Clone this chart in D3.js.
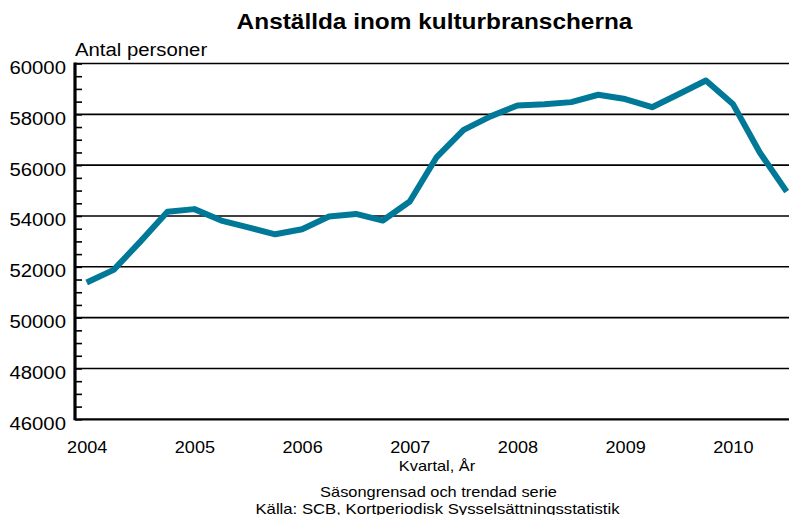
<!DOCTYPE html>
<html>
<head>
<meta charset="utf-8">
<script src="https://cdn.jsdelivr.net/npm/d3@7"></script>
<style>
body{margin:0;background:#fff;}
text{font-family:"Liberation Sans",Arial,sans-serif;fill:#000;}
</style>
</head>
<body>
<div id="plot"></div>
<script>
//data, one value per quarter 2004 Q1 .. 2010 Q3
var startYear = 2004;
var employed = [51380, 51880, 53000, 54170, 54270, 53820, 53550, 53280, 53480,
	53980, 54080, 53820, 54570, 56320, 57390, 57920, 58350, 58400, 58480,
	58770, 58600, 58280, 58800, 59330, 58410, 56500, 54960];
var yearTicks = [2004, 2005, 2006, 2007, 2008, 2009, 2010];
var valueTicks = [46000, 48000, 50000, 52000, 54000, 56000, 58000, 60000];

var W = 789, H = 515;
var stretch = 1.13; //the original text is a bit wide

var svg = d3.select('#plot')
	.append('svg')
	.attr('width',W)
	.attr('height',H);

var x = d3.scaleLinear()
	.domain([startYear, startYear + (employed.length-1)/4])
	.range([86.7, 786.7]);
var y = d3.scaleLinear()
	.domain([46000, 60000])
	.range([419.3, 63.5]);

var axisX = 75, rightX = 789;

//gridlines
svg.append('g').selectAll('line')
	.data(valueTicks.slice(1))
	.enter()
	.append('line')
	.attr('x1',axisX).attr('x2',rightX)
	.attr('y1',function(d){return y(d);})
	.attr('y2',function(d){return y(d);})
	.style('stroke','#000')
	.style('stroke-width',1.6);

//small ticks every 500
svg.append('g')
	.attr('transform','translate('+axisX+',0)')
	.call(d3.axisRight(y).tickValues(d3.range(46000,60001,500)).tickSize(7).tickFormat(''))
	.call(function(g){
		g.select('.domain').remove();
		g.selectAll('line').style('stroke','#000').style('stroke-width',1.6);
	});

//y labels
svg.append('g')
	.attr('transform','translate('+axisX+',0)')
	.call(d3.axisLeft(y).tickValues(valueTicks).tickSize(0).tickFormat(d3.format('d')))
	.call(function(g){
		g.select('.domain').remove();
		g.selectAll('text')
			.attr('x',-8)
			.attr('dy','0.55em')
			.attr('transform','scale('+stretch+',1)')
			.style('font-size','18px')
			.style('font-family','"Liberation Sans",Arial,sans-serif')
			.style('fill','#000');
	});

//x labels
svg.append('g')
	.attr('transform','translate(0,'+y(46000)+')')
	.call(d3.axisBottom(x).tickValues(yearTicks).tickSize(0).tickFormat(d3.format('d')))
	.call(function(g){
		g.select('.domain').remove();
		g.selectAll('text')
			.attr('y',22)
			.attr('dy','0.71em')
			.attr('transform','scale('+stretch+',1)')
			.style('font-size','16px')
			.style('font-family','"Liberation Sans",Arial,sans-serif')
			.style('fill','#000');
	});

//axis lines
svg.append('line')
	.attr('x1',axisX).attr('x2',rightX)
	.attr('y1',y(46000)).attr('y2',y(46000))
	.style('stroke','#000').style('stroke-width',2.2);
svg.append('line')
	.attr('x1',axisX).attr('x2',axisX)
	.attr('y1',y(60000)-1).attr('y2',y(46000)+1)
	.style('stroke','#000').style('stroke-width',3.2);

//the series
var line = d3.line()
	.x(function(d,i){return x(startYear + i/4);})
	.y(function(d){return y(d);});

svg.append('path')
	.datum(employed)
	.attr('d',line)
	.style('fill','none')
	.style('stroke','#007898')
	.style('stroke-width',6)
	.style('stroke-linejoin','round');

//texts
function label(tx, ty, str, size, anchor, weight){
	svg.append('text')
		.attr('transform','translate('+tx+','+ty+') scale('+stretch+',1)')
		.attr('text-anchor',anchor)
		.style('font-size',size+'px')
		.style('font-weight',weight || 'normal')
		.text(str);
}
label(434.5, 28.5, 'Anställda inom kulturbranscherna', 21.6, 'middle', 'bold');
label(75, 56, 'Antal personer', 18, 'start');
label(437, 471, 'Kvartal, År', 14.5, 'middle');
label(438.5, 497, 'Säsongrensad och trendad serie', 14.5, 'middle');
label(437.5, 513.5, 'Källa: SCB, Kortperiodisk Sysselsättningsstatistik', 14.8, 'middle');
</script>
</body>
</html>
